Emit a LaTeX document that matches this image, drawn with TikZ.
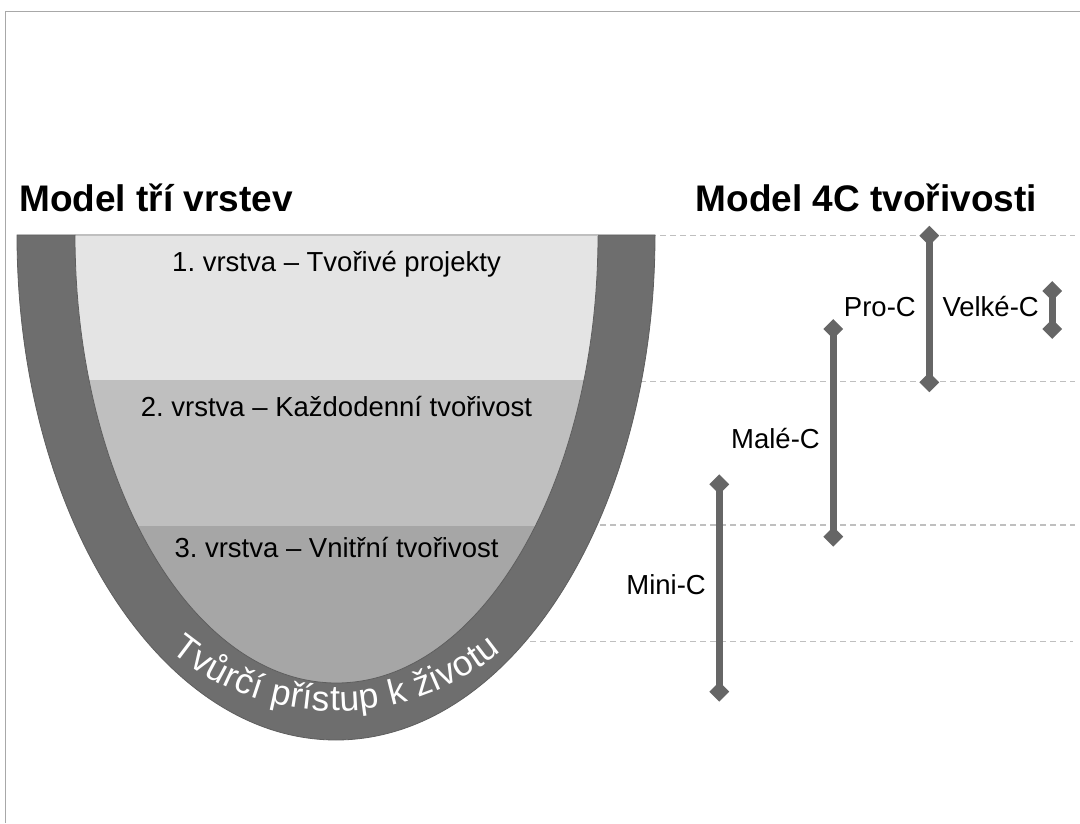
\documentclass[tikz,border=0pt]{standalone}
\usepackage{fontspec}
\setmainfont{Liberation Sans}
\usetikzlibrary{shapes.geometric,decorations.text}
\definecolor{wall}{HTML}{6E6E6E}
\definecolor{wallline}{HTML}{5E5E5E}
\definecolor{layA}{HTML}{E4E4E4}
\definecolor{layB}{HTML}{BFBFBF}
\definecolor{layC}{HTML}{A6A6A6}
\definecolor{bar}{HTML}{666666}
\definecolor{guide}{HTML}{BFBFBF}
\definecolor{framecol}{HTML}{A8A8A8}
\frenchspacing
\begin{document}
\begin{tikzpicture}[x=1pt,y=1pt,
  layertext/.style={font=\fontsize{27.5}{33}\selectfont, inner sep=0pt, anchor=base},
  cname/.style={font=\fontsize{27.5}{33}\selectfont, inner sep=0pt, anchor=base east},
  title/.style={font=\bfseries\fontsize{37}{44}\selectfont, inner sep=0pt, anchor=base west},
  tipmark/.style={diamond, fill=bar, draw=none, minimum width=20pt, minimum height=20pt, inner sep=0pt, aspect=1},
  barline/.style={draw=bar, line width=7pt},
  guideline/.style={draw=guide, line width=1.5pt, dash pattern=on 6pt off 4pt}]
\useasboundingbox (0,0) rectangle (1080,823);
% frame
\draw[framecol, line width=1.3pt] (5.7,0) -- (5.7,811.3) -- (1080,811.3);
% titles
\node[title] (t1) at (19,611.3) {Model tří vrstev};
\node[title] (t2) at (695.5,611.3) {Model 4C tvořivosti};
% guide lines
\coordinate (g1a) at (600,587.3); \coordinate (g1b) at (1075,587.3);
\coordinate (g2a) at (600,441.3); \coordinate (g2b) at (1075,441.3);
\coordinate (g3a) at (500,298);   \coordinate (g3b) at (1075,298);
\coordinate (g4a) at (450,181.3); \coordinate (g4b) at (1073,181.3);
\draw[guideline] (g1a) -- (g1b);
\draw[guideline] (g2a) -- (g2b);
\draw[guideline] (g3a) -- (g3b);
\draw[guideline] (g4a) -- (g4b);
% bowl
\fill[wall] (17,588) arc[start angle=180,end angle=360,x radius=319pt,y radius=505pt] -- cycle;
\begin{scope}
\clip (75,588) arc[start angle=180,end angle=360,x radius=261.5pt,y radius=448pt] -- cycle;
\fill[layA] (0,443) rectangle (700,600);
\fill[layB] (0,297) rectangle (700,443);
\fill[layC] (0,0) rectangle (700,297);
\end{scope}
\draw[wallline, line width=0.8pt] (17,588) arc[start angle=180,end angle=360,x radius=319pt,y radius=505pt] -- cycle;
\draw[wallline, line width=0.8pt] (75,588) arc[start angle=180,end angle=360,x radius=261.5pt,y radius=448pt];
\draw[guide, line width=1.8pt] (75.5,588) -- (597.5,588);
% curved text
\coordinate (arcC) at (336,372);
\path[decorate, decoration={text along path, text align=fit to path,
  text={|\color{white}\fontsize{35.5}{42}\selectfont|Tvůrčí přístup k životu}}]
  ([shift={(230.5:260pt)}]arcC) arc[start angle=230.5,end angle=309.5,radius=260pt];
% layer texts
\node[layertext] (l1) at (336.5,551) {1. vrstva – Tvořivé projekty};
\node[layertext] (l2) at (336.5,406) {2. vrstva – Každodenní tvořivost};
\node[layertext] (l3) at (336.5,265) {3. vrstva – Vnitřní tvořivost};
% 4C bars
\node[tipmark] (miniT) at (719.3,338.7) {};
\node[tipmark] (miniB) at (719.3,131.3) {};
\draw[barline] (miniT.center) -- (miniB.center);
\node[tipmark] (maleT) at (833.3,494) {};
\node[tipmark] (maleB) at (833.3,286.3) {};
\draw[barline] (maleT.center) -- (maleB.center);
\node[tipmark] (proT) at (929.3,587.3) {};
\node[tipmark] (proB) at (929.3,440.7) {};
\draw[barline] (proT.center) -- (proB.center);
\node[tipmark] (velT) at (1052.3,532) {};
\node[tipmark] (velB) at (1052.3,494) {};
\draw[barline] (velT.center) -- (velB.center);
% labels
\node[cname] (miniL) at (706,228) {Mini-C};
\node[cname] (maleL) at (820,374.7) {Malé-C};
\node[cname] (proL) at (916,506.3) {Pro-C};
\node[cname] (velL) at (1039,506.3) {Velké-C};
\end{tikzpicture}
\end{document}
